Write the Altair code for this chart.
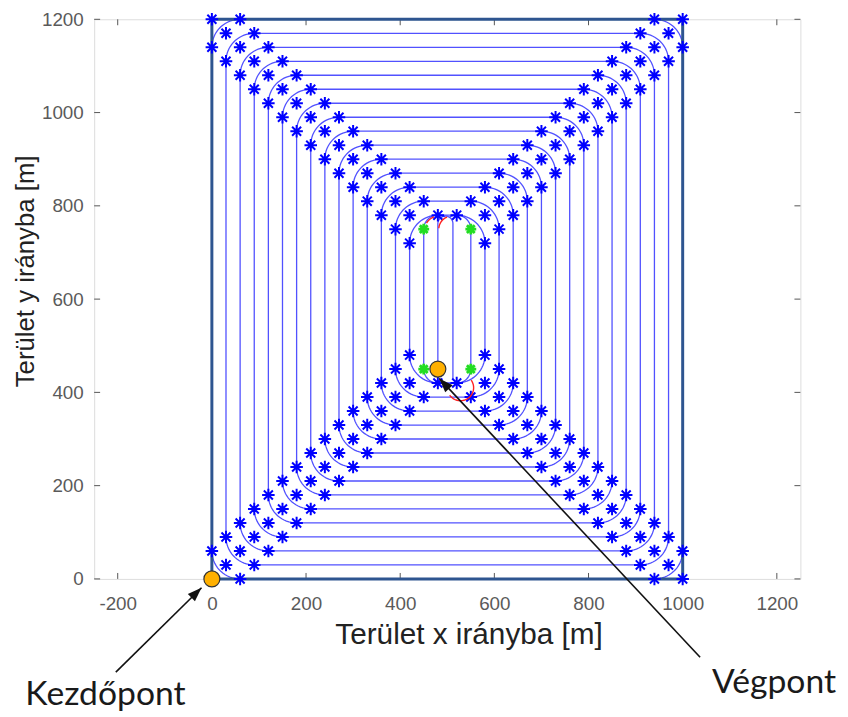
import altair as alt
import numpy as np
import pandas as pd

# ---------------- data ----------------
field_width = 1000
field_height = 1200
loop_offsets = [0, 30, 60, 90, 120, 150, 180, 210, 240, 270, 300, 330, 360, 390, 420]
turn_radius = 60
inner_offset = 450

x_ticks = [-200, 0, 200, 400, 600, 800, 1000, 1200]
y_ticks = [0, 200, 400, 600, 800, 1000, 1200]

marker_names = ["Kezdőpont", "Végpont"]
marker_x = [0, 480]
marker_y = [0, 450]

green_x = [450, 550, 450, 550]
green_y = [750, 750, 450, 450]

inner_lane_x = [480, 512]
inner_lane_bottom = [450, 430]
inner_lane_top = 762

# red turning arcs: centre x, centre y, radius, start angle, end angle (deg)
red_cx = [482, 510, 528]
red_cy = [748, 750, 410]
red_r = [30, 28, 28]
red_a0 = [110, 112, 215]
red_a1 = [150, 176, 395]

# annotations
ann_text = ["Kezdőpont", "Végpont"]
ann_tail_x = [-204, 1037]
ann_tail_y = [-200, -168]
ann_tip_x = [-22, 483]
ann_tip_y = [-19, 430]
ann_angle = [45.5, 317]
ann_label_x = [-226, 1194]
ann_label_y = [-250, -224]


def arc(cx, cy, r, a0, a1, n=18):
    t = np.radians(np.linspace(a0, a1, n))
    return list(cx + r * np.cos(t)), list(cy + r * np.sin(t))


# ---------------- geometry tables ----------------
rows = []
stars = []
W, H, R = field_width, field_height, turn_radius
for k, d in enumerate(loop_offsets):
    xs, ys = [], []
    xs += [d + R, W - d - R]; ys += [d, d]
    ax, ay = arc(W - d - R, d + R, R, -90, 0); xs += ax; ys += ay
    xs += [W - d, W - d]; ys += [d + R, H - d - R]
    ax, ay = arc(W - d - R, H - d - R, R, 0, 90); xs += ax; ys += ay
    xs += [W - d - R, d + R]; ys += [H - d, H - d]
    ax, ay = arc(d + R, H - d - R, R, 90, 180); xs += ax; ys += ay
    xs += [d, d]; ys += [H - d - R, d + R]
    ax, ay = arc(d + R, d + R, R, 180, 270); xs += ax; ys += ay
    for i, (x, y) in enumerate(zip(xs, ys)):
        rows.append({"x": x, "y": y, "seg": f"loop{k}", "o": i})
    for (cx, cy, sx, sy) in [(d, d, 1, 1), (W - d, d, -1, 1), (W - d, H - d, -1, -1), (d, H - d, 1, -1)]:
        stars += [{"x": cx, "y": cy}, {"x": cx + sx * R, "y": cy}, {"x": cx, "y": cy + sy * R}]

# innermost lane (too narrow for the standard turn)
d = inner_offset
xs, ys = [], []
ax, ay = arc(d + 30, H - d, 30, 60, 180); xs += ax; ys += ay
xs += [d, d]; ys += [H - d, d]
ax, ay = arc(d + 30, d, 30, 180, 270); xs += ax; ys += ay
xs += [W - d - 30]; ys += [d - 30]
ax, ay = arc(W - d - 30, d, 30, 270, 360); xs += ax; ys += ay
xs += [W - d]; ys += [H - d]
ax, ay = arc(W - d - 30, H - d, 30, 0, 120); xs += ax; ys += ay
for i, (x, y) in enumerate(zip(xs, ys)):
    rows.append({"x": x, "y": y, "seg": "inner", "o": i})

# central U lane ending at Végpont
cx_mid = (inner_lane_x[0] + inner_lane_x[1]) / 2
rr = (inner_lane_x[1] - inner_lane_x[0]) / 2
xs = [inner_lane_x[0], inner_lane_x[0]]
ys = [inner_lane_bottom[0], inner_lane_top]
ax, ay = arc(cx_mid, inner_lane_top, rr, 180, 0); xs += ax; ys += ay
xs += [inner_lane_x[1]]; ys += [inner_lane_bottom[1]]
for i, (x, y) in enumerate(zip(xs, ys)):
    rows.append({"x": x, "y": y, "seg": "centre", "o": i})

paths = pd.DataFrame(rows)
star_df = pd.DataFrame(stars)

boundary = pd.DataFrame({"x": [0, W, W, 0, 0], "y": [0, 0, H, H, 0], "o": list(range(5))})

red_rows = []
for j in range(len(red_cx)):
    ax, ay = arc(red_cx[j], red_cy[j], red_r[j], red_a0[j], red_a1[j], 24)
    for i, (x, y) in enumerate(zip(ax, ay)):
        red_rows.append({"x": x, "y": y, "seg": f"r{j}", "o": i})
red_df = pd.DataFrame(red_rows)

green_df = pd.DataFrame({"x": green_x, "y": green_y})
marker_df = pd.DataFrame({"name": marker_names, "x": marker_x, "y": marker_y})

arrow_rows = []
for j in range(2):
    arrow_rows.append({"x": ann_tail_x[j], "y": ann_tail_y[j], "seg": j, "o": 0})
    arrow_rows.append({"x": ann_tip_x[j], "y": ann_tip_y[j], "seg": j, "o": 1})
arrow_df = pd.DataFrame(arrow_rows)
head_df = pd.DataFrame({"x": ann_tip_x, "y": ann_tip_y, "angle": ann_angle})
label_df = pd.DataFrame({"text": ann_text, "x": ann_label_x, "y": ann_label_y})

xt_df = pd.DataFrame({"x": x_ticks})
yt_df = pd.DataFrame({"y": y_ticks})

# ---------------- chart ----------------
PW, PH = 713, 565
xs_ = alt.Scale(domain=[-250, 1250], nice=False, zero=False)
ys_ = alt.Scale(domain=[0, 1200], nice=False, zero=False)

x_axis = alt.Axis(values=x_ticks, ticks=False, grid=False, domain=False, labelPadding=16,
                  labelExpr="'' + datum.value",
                  labelFont="Liberation Sans", labelFontSize=19, labelColor="#5a5a5a",
                  title="Terület x irányba [m]", titleFont="Liberation Sans", titleFontSize=30,
                  titleFontWeight="normal", titleColor="#222222", titlePadding=6,
                  titleX=378, titleAnchor="start", titleAlign="center")
y_axis = alt.Axis(values=y_ticks, ticks=False, grid=False, domain=False, labelPadding=11,
                  labelExpr="'' + datum.value",
                  labelFont="Liberation Sans", labelFontSize=19, labelColor="#5a5a5a",
                  title="Terület y irányba [m]", titleFont="Liberation Sans", titleFontSize=26,
                  titleFontWeight="normal", titleColor="#222222", titlePadding=3,
                  titleY=254, titleAlign="center")

X = lambda: alt.X("x:Q", scale=xs_, axis=x_axis)
Y = lambda: alt.Y("y:Q", scale=ys_, axis=y_axis)

ASTER = "M-1,0L1,0M0,-1L0,1M-0.72,-0.72L0.72,0.72M-0.72,0.72L0.72,-0.72"
HEAD = "M0,0L-0.5,1.4L0.5,1.4Z"

loops = alt.Chart(paths).mark_line(color="#2525ff", strokeWidth=1.3, opacity=0.8).encode(
    x=X(), y=Y(), detail="seg:N", order="o:Q")
bound = alt.Chart(boundary).mark_line(color="#2E5590", strokeWidth=3).encode(
    x=X(), y=Y(), order="o:Q")
star_layer = alt.Chart(star_df).mark_point(shape=ASTER, filled=False, color="#0000ff",
                                          strokeWidth=2.0, size=160, opacity=1).encode(x=X(), y=Y())
red_layer = alt.Chart(red_df).mark_line(color="#ff2020", strokeWidth=1.4).encode(
    x=X(), y=Y(), detail="seg:N", order="o:Q")
green_layer = alt.Chart(green_df).mark_point(shape=ASTER, filled=False, color="#22dd22",
                                            strokeWidth=2.8, size=120, opacity=1).encode(x=X(), y=Y())
markers = alt.Chart(marker_df).mark_point(shape="circle", filled=True, fill="#FFB000",
                                          stroke="#333333", strokeWidth=1.2, size=260,
                                          opacity=1).encode(x=X(), y=Y())
arrows = alt.Chart(arrow_df).mark_line(color="#111111", strokeWidth=1.6).encode(
    x=X(), y=Y(), detail="seg:N", order="o:Q")
heads = alt.Chart(head_df).mark_point(shape=HEAD, filled=True, color="#111111", size=420,
                                      opacity=1).encode(x=X(), y=Y(), angle=alt.Angle("angle:Q", scale=None))
labels = alt.Chart(label_df).mark_text(font="Lato", fontSize=34, color="#1a1a1a",
                                       align="center", baseline="middle").encode(
    x=X(), y=Y(), text="text:N")

tick_b = alt.Chart(xt_df).mark_rule(color="#555555", strokeWidth=1).encode(
    x=X(), y=alt.value(PH), y2=alt.value(PH - 6))
tick_t = alt.Chart(xt_df).mark_rule(color="#555555", strokeWidth=1).encode(
    x=X(), y=alt.value(0), y2=alt.value(6))
tick_l = alt.Chart(yt_df).mark_rule(color="#555555", strokeWidth=1).encode(
    y=Y(), x=alt.value(0), x2=alt.value(6))
tick_r = alt.Chart(yt_df).mark_rule(color="#555555", strokeWidth=1).encode(
    y=Y(), x=alt.value(PW), x2=alt.value(PW - 6))

chart = alt.layer(
    tick_b, tick_t, tick_l, tick_r,
    loops, bound, star_layer, red_layer, green_layer, arrows, heads, markers, labels,
).properties(
    width=PW, height=PH,
    autosize=alt.AutoSizeParams(type="none"),
    padding={"left": 87, "top": 8, "right": 40, "bottom": 136},
).configure_view(stroke="#505050", strokeWidth=1.2).configure(background="white")

chart.save("out.html", embed_options={"renderer": "svg", "actions": False})
